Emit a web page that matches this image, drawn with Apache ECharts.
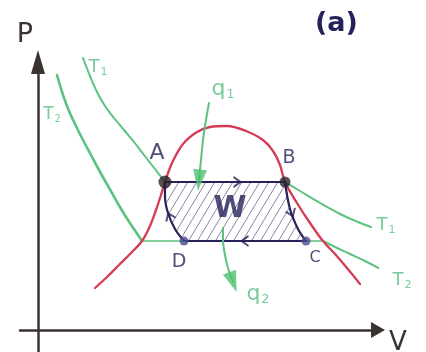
<!DOCTYPE html>
<html>
<head>
<meta charset="utf-8">
<script src="https://cdn.jsdelivr.net/npm/echarts@6/dist/echarts.min.js"></script>
<style>
  html, body { margin: 0; padding: 0; background: #ffffff; }
  #chart { width: 426px; height: 352px; }
</style>
</head>
<body>
<div id="chart"></div>
<script>
// ---- P–V diagram of a Carnot cycle under the saturation dome ----
// All points are [V, P] in arbitrary units.

// Saturation curve: liquid branch, critical region, vapour branch
const saturationDome = [
  [57, 42], [69, 53], [81, 65], [93, 77], [104, 89], [112, 104], [118, 120],
  [123, 135], [127, 148], [134, 167], [145, 186], [159, 198], [172, 203],
  [189, 204], [208, 199], [225, 190], [235, 179], [242, 165], [247, 148],
  [259, 127], [272, 107], [285, 89], [297, 76], [309, 62], [322, 46]
];

// Hot isotherm T1
const isoT1Liquid = [
  [45, 272], [52, 254], [59, 238], [67, 224], [76, 212], [86, 200],
  [96, 188], [106, 175], [117, 161], [127, 148]
];
const isoT1Vapour = [[247, 148], [262, 139], [282, 127], [302, 116], [320, 108], [333, 103]];

// Cold isotherm T2
const isoT2Liquid = [
  [19, 255], [25, 235], [31, 219], [38, 204], [45, 190], [53, 175],
  [61, 160], [70, 144], [79, 128], [88, 113], [96, 101], [104, 89]
];
const isoT2Plateau = [[104, 89], [285, 89]];
const isoT2Vapour = [[285, 89], [297, 83], [312, 76], [327, 69], [348, 58]];

// Cycle states
const stateNames = ['A', 'B', 'C', 'D'];
const stateA = [127, 148];
const stateB = [247, 148];
const stateC = [268, 89];
const stateD = [146, 89];

// Cycle legs (A→B isothermal, B→C adiabatic, C→D isothermal, D→A adiabatic)
const legAB = [stateA, stateB];
const legBC = [[247, 148], [252, 121], [260, 101], [268, 89]];
const legCD = [stateC, stateD];
const legDA = [[146, 89], [137, 101], [130, 117], [127, 133], [127, 148]];

// Heat exchanged: q1 absorbed on A→B, q2 rejected on C→D
const heatIn = [[171, 227], [168, 210], [165, 190], [163, 170], [161, 150]];
const heatOut = [[185, 102], [185, 90], [187, 75], [190, 62], [195, 48]];

// Where along each leg the direction chevron sits (0..1)
const flowFraction = [0.6, 0.5, 0.5, 0.45];

// ---------------------------------------------------------------

const NAVY = '#25225a';
const RED = '#d63b55';
const GREEN = '#5cc27f';
const GREEN_TXT = '#5abd82';
const AXIS = '#3d3232';
const FONT = 'DejaVu Sans';

function pointAlong(path, t) {
  const seg = [];
  let total = 0;
  for (let i = 1; i < path.length; i++) {
    const d = Math.hypot(path[i][0] - path[i - 1][0], path[i][1] - path[i - 1][1]);
    seg.push(d); total += d;
  }
  let target = total * t;
  for (let i = 1; i < path.length; i++) {
    if (target <= seg[i - 1] || i === path.length - 1) {
      const k = Math.min(1, target / seg[i - 1]);
      const a = path[i - 1], b = path[i];
      return {
        pos: [a[0] + (b[0] - a[0]) * k, a[1] + (b[1] - a[1]) * k],
        dir: [b[0] - a[0], b[1] - a[1]]
      };
    }
    target -= seg[i - 1];
  }
}
// rotation (deg, counter-clockwise) that turns an upward symbol along dir
const angleOf = (dir) => Math.atan2(-dir[0], dir[1]) * 180 / Math.PI;

function hatchPattern() {
  const c = document.createElement('canvas');
  const w = 9, h = 15;
  c.width = w; c.height = h;
  const g = c.getContext('2d');
  g.strokeStyle = 'rgba(72,70,112,0.65)';
  g.lineWidth = 1;
  [-w, 0, w].forEach(off => {
    g.beginPath(); g.moveTo(off, h); g.lineTo(off + w, 0); g.stroke();
  });
  return c;
}

const cycleOutline = [stateA].concat(legBC, legDA);
const legs = [legAB, legBC, legCD, legDA];
const flowMarks = legs.map((leg, i) => {
  const p = pointAlong(leg, flowFraction[i]);
  return { value: p.pos, symbolRotate: angleOf(p.dir) };
});
const headOf = (path) => {
  const n = path.length;
  const dir = [path[n - 1][0] - path[n - 2][0], path[n - 1][1] - path[n - 2][1]];
  return { value: path[n - 1], symbolRotate: angleOf(dir) };
};

const centre = [
  (stateA[0] + stateB[0] + stateC[0] + stateD[0]) / 4,
  (stateA[1] + stateB[1] + stateC[1] + stateD[1]) / 4
];

const subRich = (size) => ({
  m: { fontSize: size, fontFamily: FONT, color: GREEN_TXT },
  s: { fontSize: Math.round(size * 0.6), fontFamily: FONT, color: GREEN_TXT, padding: [Math.round(size * 0.55), 0, 0, 1] }
});
const note = (anchor, text, dx, dy, style) => ({
  value: anchor,
  label: Object.assign({ show: true, position: 'inside', formatter: text, offset: [dx, dy] }, style)
});
const navyText = (size, weight) => ({ color: NAVY, fontSize: size, fontFamily: FONT, fontWeight: weight || 'normal' });
const greenSub = (size) => ({ rich: subRich(size) });

const stateLabelOffsets = [[-8, -29], [4, -24], [9, 17], [-5, 21]];
const stateLabelSizes = [22, 19, 16, 19];
const states = [stateA, stateB, stateC, stateD];

const lineSeries = (data, color, width, z) => ({
  type: 'line', data, smooth: 0.35, showSymbol: false, clip: false, silent: true,
  lineStyle: { color, width, cap: 'round', join: 'round' }, z
});

const option = {
  animation: false,
  backgroundColor: '#ffffff',
  title: {
    text: '(a)', left: 310, top: 5,
    textStyle: { color: NAVY, fontSize: 27, fontWeight: 'bold', fontFamily: FONT }
  },
  grid: { left: 20, right: 48, top: 62, bottom: 0, containLabel: false, outerBoundsMode: 'none' },
  xAxis: {
    type: 'value', min: -18, max: 340,
    name: 'V', nameLocation: 'end', nameGap: 11,
    nameTextStyle: { color: AXIS, fontSize: 26, fontFamily: FONT, verticalAlign: 'top' },
    axisLine: { onZero: true, symbol: ['none', 'triangle'], symbolSize: [16, 14], lineStyle: { color: AXIS, width: 2.5 } },
    axisTick: { show: false }, axisLabel: { show: false }, splitLine: { show: false }
  },
  yAxis: {
    type: 'value', min: -22, max: 268,
    name: 'P', nameLocation: 'end', nameGap: 14,
    nameTextStyle: { color: AXIS, fontSize: 27, fontFamily: FONT, padding: [0, 26, 0, 0] },
    axisLine: { onZero: true, symbol: ['none', 'triangle'], symbolSize: [14, 24], lineStyle: { color: AXIS, width: 2.5 } },
    axisTick: { show: false }, axisLabel: { show: false }, splitLine: { show: false }
  },
  series: [
    // hatched work area W enclosed by the cycle
    {
      type: 'custom', coordinateSystem: 'cartesian2d', silent: true, z: 1,
      data: [[0, 0]],
      renderItem: (params, api) => ({
        type: 'polygon',
        shape: { points: cycleOutline.map(p => api.coord(p)) },
        style: { fill: { image: hatchPattern(), repeat: 'repeat' }, stroke: null }
      })
    },
    lineSeries(isoT1Liquid, GREEN, 2, 2),
    lineSeries(isoT1Vapour, GREEN, 2, 2),
    lineSeries(isoT2Liquid, GREEN, 2.6, 2),
    lineSeries(isoT2Plateau, GREEN, 1.6, 2),
    lineSeries(isoT2Vapour, GREEN, 2, 2),
    lineSeries(saturationDome, RED, 2.3, 3),
    lineSeries(legAB, NAVY, 2, 4),
    lineSeries(legBC, NAVY, 2.2, 4),
    lineSeries(legCD, NAVY, 1.8, 4),
    lineSeries(legDA, NAVY, 2.2, 4),
    lineSeries(heatIn, GREEN, 2, 5),
    lineSeries(heatOut, GREEN, 2, 5),
    // arrow heads of q1 / q2
    {
      type: 'scatter', clip: false, silent: true, z: 6,
      symbol: 'triangle', symbolSize: [14, 21],
      itemStyle: { color: '#4fbf70' },
      data: [headOf(heatIn), headOf(heatOut)]
    },
    // direction chevrons on the cycle legs
    {
      type: 'scatter', clip: false, silent: true, z: 6,
      symbol: 'path://M0,10 L5,0 L10,10', symbolSize: [10, 7],
      itemStyle: { color: 'transparent', borderColor: NAVY, borderWidth: 1.8 },
      data: flowMarks
    },
    // state points
    {
      type: 'scatter', clip: false, silent: true, z: 7,
      data: [
        { value: stateA, symbolSize: 13, itemStyle: { color: '#2a2229' } },
        { value: stateB, symbolSize: 11, itemStyle: { color: '#2b2430' } },
        { value: stateC, symbolSize: 9, itemStyle: { color: '#4b4a8e' } },
        { value: stateD, symbolSize: 9, itemStyle: { color: '#4b4a8e' } }
      ]
    },
    // annotations
    {
      type: 'scatter', clip: false, silent: true, z: 8, symbolSize: 0,
      data: [
        ...states.map((s, i) => note(s, stateNames[i], stateLabelOffsets[i][0], stateLabelOffsets[i][1], navyText(stateLabelSizes[i]))),
        note(centre, 'W', -5, -2, navyText(30, 'bold')),
        note(isoT1Liquid[0], '{m|T}{s|1}', 15, 9, greenSub(18)),
        note(isoT2Liquid[0], '{m|T}{s|2}', -5, 40, greenSub(17)),
        note(isoT1Vapour[isoT1Vapour.length - 1], '{m|T}{s|1}', 15, -2, greenSub(18)),
        note(isoT2Vapour[isoT2Vapour.length - 1], '{m|T}{s|2}', 16, 8, greenSub(18)),
        note(heatIn[0], '{m|q}{s|1}', 14, -14, greenSub(22)),
        note(heatOut[heatOut.length - 1], '{m|q}{s|2}', 25, 12, greenSub(22))
      ]
    }
  ]
};

const chart = echarts.init(document.getElementById('chart'), null, { renderer: 'canvas' });
chart.setOption(option);
</script>
</body>
</html>
